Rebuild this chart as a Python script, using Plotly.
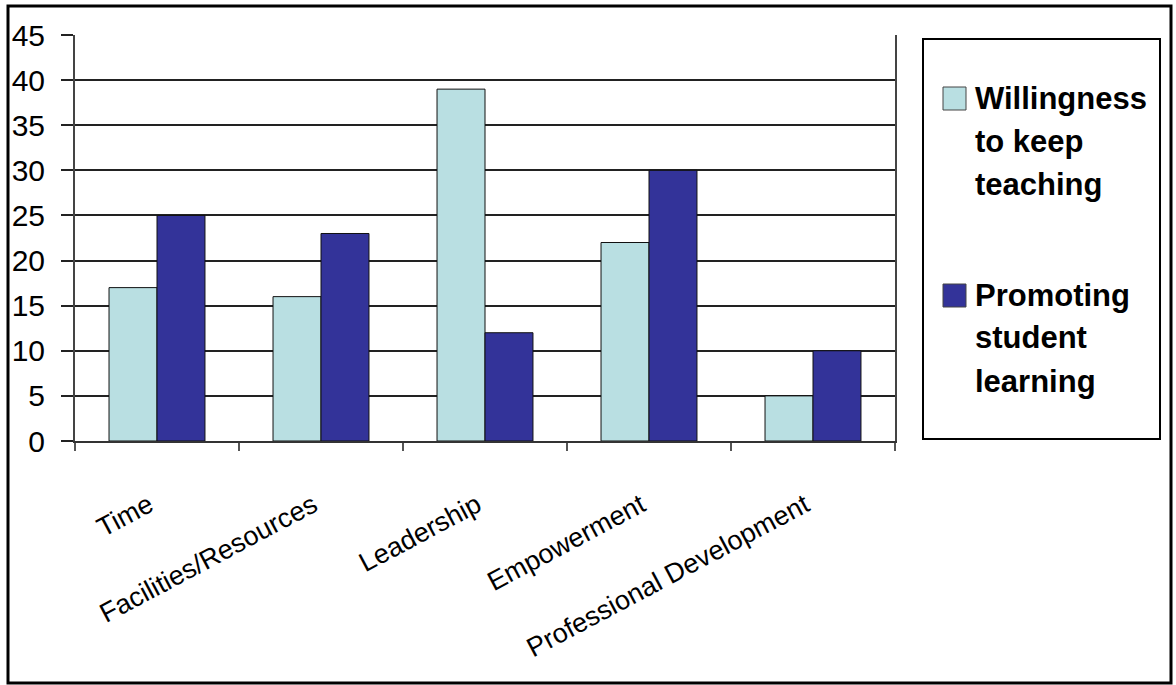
import plotly.graph_objects as go

# Survey factors and the counts for each outcome
categories = ["Time", "Facilities/Resources", "Leadership", "Empowerment", "Professional Development"]
willingness = [17, 16, 39, 22, 5]
promoting = [25, 23, 12, 30, 10]
series_names = ["Willingness to keep teaching", "Promoting student learning"]
legend_lines = [["Willingness", "to keep", "teaching"], ["Promoting", "student", "learning"]]
y_ticks = [0, 5, 10, 15, 20, 25, 30, 35, 40, 45]

LIGHT = "#B9DFE2"
DARK = "#333399"

W, H = 1176, 685
# plot-area edges in pixels
L, R, T, B = 75, 895, 35, 441


def px_x(x):
    return (x - L) / (R - L)


def px_y(y):
    return (B - y) / (B - T)


fig = go.Figure()
for name, vals, col in [(series_names[0], willingness, LIGHT), (series_names[1], promoting, DARK)]:
    fig.add_trace(go.Bar(
        x=categories, y=vals, name=name,
        marker=dict(color=col, line=dict(color="#111111", width=1)),
        showlegend=False,
    ))

shapes = [
    # outer frame
    dict(type="rect", xref="paper", yref="paper",
         x0=px_x(8), x1=px_x(1171), y0=px_y(683), y1=px_y(6),
         line=dict(color="black", width=3), layer="above"),
    # legend frame
    dict(type="rect", xref="paper", yref="paper",
         x0=px_x(923), x1=px_x(1160), y0=px_y(439), y1=px_y(39),
         line=dict(color="black", width=2)),
]
annotations = []
legend_tops = [87, 284]
for i, (lines, col) in enumerate(zip(legend_lines, [LIGHT, DARK])):
    top = legend_tops[i]
    shapes.append(dict(type="rect", xref="paper", yref="paper",
                       x0=px_x(943), x1=px_x(966), y0=px_y(top + 23), y1=px_y(top),
                       fillcolor=col, line=dict(color="#444444", width=1)))
    for j, txt in enumerate(lines):
        annotations.append(dict(
            xref="paper", yref="paper", x=px_x(973), y=px_y(top + 11 + 43 * j),
            xanchor="left", yanchor="middle", showarrow=False, text=txt,
            font=dict(family="Liberation Sans, Arial, sans-serif", size=31, color="black", weight="bold"),
        ))

fig.update_layout(
    width=W, height=H,
    margin=dict(l=L, r=W - R, t=T, b=H - B),
    paper_bgcolor="white", plot_bgcolor="white",
    barmode="group", bargap=0.415, bargroupgap=0,
    shapes=shapes, annotations=annotations,
    xaxis=dict(
        automargin=False,
        showline=True, linecolor="#333333", linewidth=2,
        ticks="outside", tickson="boundaries", ticklen=8, tickcolor="#555555", tickwidth=2,
        tickangle=-28, showgrid=False, ticklabelstandoff=36, ticklabelshift=-8,
        tickfont=dict(family="Liberation Sans, Arial, sans-serif", size=27, color="black"),
    ),
    yaxis=dict(
        automargin=False,
        range=[0, 45], tickvals=y_ticks, showgrid=True, gridcolor="#222222", gridwidth=2,
        zeroline=False, showline=True, linecolor="#444444", linewidth=2, mirror=True,
        ticks="outside", ticklen=12, tickcolor="#222222", tickwidth=2, ticklabelstandoff=10,
        tickfont=dict(family="Liberation Sans, Arial, sans-serif", size=30, color="black"),
    ),
)

fig.write_html("out.html")
